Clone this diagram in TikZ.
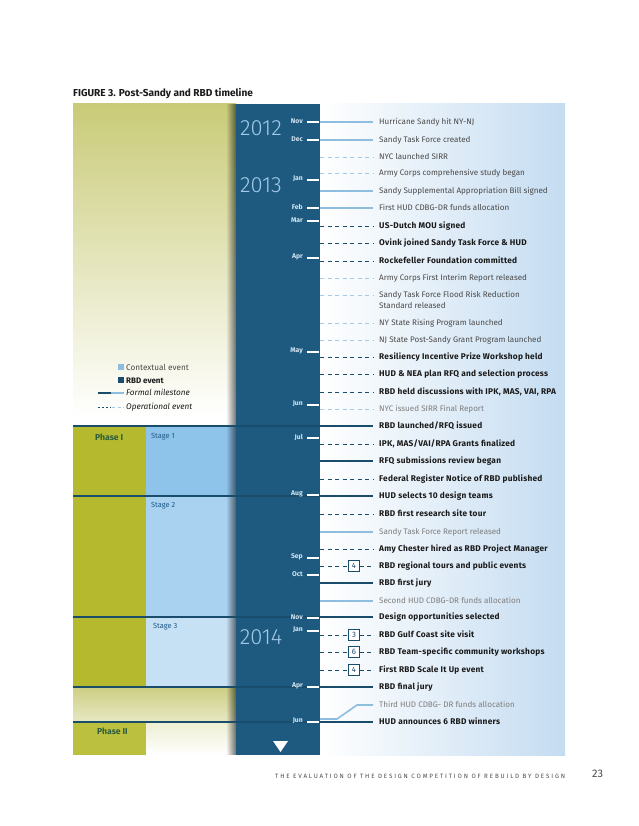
\documentclass[tikz,border=0pt]{standalone}
\usepackage{fontspec}
\setmainfont{Fira Sans}
\newfontfamily\yearfont{Fira Sans Light}
\usetikzlibrary{calc}
\definecolor{navy}{HTML}{1E5A80}
\definecolor{rbd}{HTML}{1A4C6C}
\definecolor{ctx}{HTML}{8EBDE0}
\definecolor{ctxd}{HTML}{A6C9E6}
\definecolor{olive}{HTML}{B4B92D}
\definecolor{oliveB}{HTML}{BCC03F}
\definecolor{oliveT}{HTML}{C9CB78}
\definecolor{oliveM}{HTML}{CDCF86}
\definecolor{oliveL}{HTML}{E7E8C2}
\definecolor{paleT}{HTML}{EDEED2}
\definecolor{st1}{HTML}{8FC4EA}
\definecolor{st2}{HTML}{A9D1F0}
\definecolor{st3}{HTML}{C6E0F4}
\definecolor{rpanel}{HTML}{C4DCF1}
\definecolor{monthc}{HTML}{D2E4F1}
\definecolor{yearc}{HTML}{A3CAE7}
\definecolor{ctxtext}{HTML}{4A4A4A}
\definecolor{ctxlight}{HTML}{7E7E7E}
\definecolor{rbdtext}{HTML}{1A1A1A}
\definecolor{phasec}{HTML}{2E5E3E}
\definecolor{stagec}{HTML}{1F5A88}
\tikzset{
  ctxF/.style={draw=ctx, line width=1.6pt},
  ctxO/.style={draw=ctxd, line width=0.8pt, dash pattern=on 4pt off 3.5pt},
  rbdF/.style={draw=rbd, line width=1.6pt},
  rbdO/.style={draw=rbd, line width=0.9pt, dash pattern=on 4pt off 3.5pt},
  evt/.style={inner sep=0pt, font=\fontsize{8.05}{10.8}\selectfont},
  ctxT/.style={evt, anchor=west, text height=5.8pt, text depth=1.4pt, text=ctxtext},
  ctxL/.style={ctxT, text=ctxlight},
  rbdT/.style={evt, anchor=west, text height=5.8pt, text depth=1.4pt, text=rbdtext, font=\bfseries\fontsize{8.3}{10.5}\selectfont\addfontfeatures{LetterSpace=3}},
  numbox/.style={draw=rbd, fill=white, line width=0.6pt, minimum size=10.5pt, inner sep=0pt, text=rbd, font=\fontsize{7.8}{7.8}\selectfont},
  month/.style={anchor=east, inner sep=0pt, text=monthc, font=\bfseries\fontsize{6.8}{7}\selectfont},
  tickln/.style={draw=white, line width=1.8pt},
  year/.style={inner sep=0pt, text=yearc, font=\yearfont\fontsize{22}{22}\selectfont},
  phase/.style={anchor=west, inner sep=0pt, text=phasec, font=\bfseries\fontsize{8.6}{9}\selectfont},
  stage/.style={anchor=west, inner sep=0pt, text=stagec, font=\fontsize{7.4}{8}\selectfont},
  legt/.style={anchor=base west, inner sep=0pt, font=\fontsize{8.2}{9}\selectfont},
}
\begin{document}
\begin{tikzpicture}[x=1pt,y=-1pt]
\fill[white] (0,0) rectangle (638,826);
\useasboundingbox (0,0) rectangle (638,826);
% title
\node[anchor=base west, inner sep=0pt, text=rbdtext, font=\bfseries\fontsize{10.1}{11}\selectfont] (title) at (73,96.5) {FIGURE 3. Post-Sandy and RBD timeline};
% left panels
\shade[top color=oliveT, bottom color=white] (73,104) rectangle (236,415);
\fill[olive] (73,427) rectangle (146,688);
\fill[st1] (146,427) rectangle (236,497);
\fill[st2] (146,497) rectangle (236,618);
\fill[st3] (146,618) rectangle (236,688);
\shade[top color=oliveM, bottom color=oliveL] (73,688) rectangle (236,722);
\fill[oliveB] (73,722) rectangle (146,755);
\shade[top color=paleT, bottom color=white] (146,722) rectangle (236,755);
% shadow of the time column
\foreach \i in {0,...,9} {
  \fill[black, opacity=0.055*\i] (226+\i,104) rectangle (227+\i,755);
}
% time column and right panel
\fill[navy] (236,104) rectangle (320,755);
\shade[left color=white, right color=rpanel] (320,104) rectangle (565,755);
% years
\node[year] (y12) at (261,128) {2012};
\node[year] (y13) at (261,185) {2013};
\node[year] (y14) at (261,637) {2014};
\fill[white] (273,741) -- (288,741) -- (280.5,752) -- cycle;
% phase / stage labels
\node[phase] (ph1) at (95,437) {Phase I};
\node[stage] (sg1) at (151,437) {Stage 1};
\node[stage] (sg2) at (151,506) {Stage 2};
\node[stage] (sg3) at (153,627) {Stage 3};
\node[phase] (ph2) at (97,731) {Phase II};
% legend
\fill[ctx] (118,364) rectangle (124,370);
\node[legt, text=ctxtext] (lg1) at (126,370.5) {Contextual event};
\fill[rbd] (118,377) rectangle (124,383);
\node[legt, text=rbdtext, font=\bfseries\fontsize{8}{9}\selectfont] (lg2) at (126,383.5) {RBD event};
\draw[rbd, line width=1.6pt] (98,393) -- (111,393);
\draw[ctx, line width=1.6pt] (111,393) -- (124,393);
\node[legt, text=rbdtext, font=\itshape\fontsize{8.2}{9}\selectfont] (lg3) at (126,395.5) {Formal milestone};
\draw[rbd, line width=0.9pt, dash pattern=on 1.5pt off 2.5pt] (98,407) -- (111,407);
\draw[ctxd, line width=0.9pt, dash pattern=on 3pt off 2.5pt] (112,407) -- (124,407);
\node[legt, text=rbdtext, font=\itshape\fontsize{8.2}{9}\selectfont] (lg4) at (126,409.5) {Operational event};
% events: start points on the time column
\foreach \i/\y in {1/122,2/140,3/157,4/173,5/191,6/208,7/226,8/243,9/261,10/278,11/295,12/323,13/340,14/357,15/374,16/392,17/409,19/444,20/461,21/479,23/514,24/532,25/549,26/566,27/583,28/601,30/635,31/652,32/670,34/719} {
  \coordinate (s\i) at (320,\y);
}
% long lines start at the left edge of the panel
\foreach \i/\y in {18/426,22/496,29/617,33/687,35/722} {
  \coordinate (s\i) at (73,\y);
}
% event texts
\node[ctxT] (e1) at (379,122) {Hurricane Sandy hit NY-NJ};
\node[ctxT] (e2) at (379,140) {Sandy Task Force created};
\node[ctxT] (e3) at (379,157) {NYC launched SIRR};
\node[ctxT] (e4) at (379,173) {Army Corps comprehensive study began};
\node[ctxT] (e5) at (379,191) {Sandy Supplemental Appropriation Bill signed};
\node[ctxT] (e6) at (379,208) {First HUD CDBG-DR funds allocation};
\node[rbdT] (e7) at (379,226) {US-Dutch MOU signed};
\node[rbdT] (e8) at (379,243) {Ovink joined Sandy Task Force \& HUD};
\node[rbdT] (e9) at (379,261) {Rockefeller Foundation committed};
\node[ctxT] (e10) at (379,278) {Army Corps First Interim Report released};
\node[evt, anchor=north west, align=left, text=ctxtext] (e11) at (379,291.2) {Sandy Task Force Flood Risk Reduction\\Standard released};
\node[ctxT] (e12) at (379,323) {NY State Rising Program launched};
\node[ctxT] (e13) at (379,340) {NJ State Post-Sandy Grant Program launched};
\node[rbdT] (e14) at (379,357) {Resiliency Incentive Prize Workshop held};
\node[rbdT] (e15) at (379,374) {HUD \& NEA plan RFQ and selection process};
\node[rbdT] (e16) at (379,392) {RBD held discussions with IPK, MAS, VAI, RPA};
\node[ctxL] (e17) at (379,409) {NYC issued SIRR Final Report};
\node[rbdT] (e18) at (379,426) {RBD launched/RFQ issued};
\node[rbdT] (e19) at (379,444) {IPK, MAS/VAI/RPA Grants finalized};
\node[rbdT] (e20) at (379,461) {RFQ submissions review began};
\node[rbdT] (e21) at (379,479) {Federal Register Notice of RBD published};
\node[rbdT] (e22) at (379,496) {HUD selects 10 design teams};
\node[rbdT] (e23) at (379,514) {RBD first research site tour};
\node[ctxL] (e24) at (379,532) {Sandy Task Force Report released};
\node[rbdT] (e25) at (379,549) {Amy Chester hired as RBD Project Manager};
\node[rbdT] (e26) at (379,566) {RBD regional tours and public events};
\node[rbdT] (e27) at (379,583) {RBD first jury};
\node[ctxL] (e28) at (379,601) {Second HUD CDBG-DR funds allocation};
\node[rbdT] (e29) at (379,617) {Design opportunities selected};
\node[rbdT] (e30) at (379,635) {RBD Gulf Coast site visit};
\node[rbdT] (e31) at (379,652) {RBD Team-specific community workshops};
\node[rbdT] (e32) at (379,670) {First RBD Scale It Up event};
\node[rbdT] (e33) at (379,687) {RBD final jury};
\node[ctxL] (e34) at (379,705) {Third HUD CDBG- DR funds allocation};
\node[rbdT] (e35) at (379,722) {HUD announces 6 RBD winners};
% connectors
\foreach \i in {1,2,5,6,24,28} { \draw[ctxF] (s\i) -- ([xshift=-6pt]e\i.west); }
\foreach \i in {3,4,10,12,13,17} { \draw[ctxO] (s\i) -- ([xshift=-6pt]e\i.west); }
\draw[ctxO] (s11) -- ([xshift=-6pt]e11.north west |- s11);
\foreach \i in {7,8,9,14,15,16,19,21,23,25} { \draw[rbdO] (s\i) -- ([xshift=-6pt]e\i.west); }
\foreach \i in {18,20,22,27,29,33,35} { \draw[rbdF] (s\i) -- ([xshift=-6pt]e\i.west); }
\draw[ctxF] (s34) -- ++(17,0) -- ++(20,-14) -- ([xshift=-6pt]e34.west);
% numbered boxes
\foreach \i/\y/\k in {26/566/4,30/635/3,31/652/6,32/670/4} {
  \node[numbox] (b\i) at (354,\y) {\k};
  \draw[rbdO] (s\i) -- (b\i.west);
  \draw[rbdO] (b\i.east) -- ([xshift=-6pt]e\i.west);
}
% months and ticks (on top)
\foreach \n/\y/\t in {1/122/Nov,2/140/Dec,3/180/Jan,4/208/Feb,5/221/Mar,6/258/Apr,7/352/May,8/405/Jun,9/438/Jul,10/495/Aug,11/558/Sep,12/575/Oct,13/618/Nov,14/631/Jan,15/687/Apr,16/722/Jun} {
  \node[month] (m\n) at (303,\y-1) {\t};
  \draw[tickln] (307,\y) -- (319,\y);
}
% footer
\node[anchor=base west, inner sep=0pt, text=ctxtext, font=\fontsize{6.2}{7}\selectfont\addfontfeatures{LetterSpace=30}] (foot) at (275,778) {THE EVALUATION OF THE DESIGN COMPETITION OF REBUILD BY DESIGN};
\node[anchor=base west, inner sep=0pt, text=ctxtext, font=\fontsize{11}{11}\selectfont] (pg) at (592,777.5) {23};
\end{tikzpicture}
\end{document}
